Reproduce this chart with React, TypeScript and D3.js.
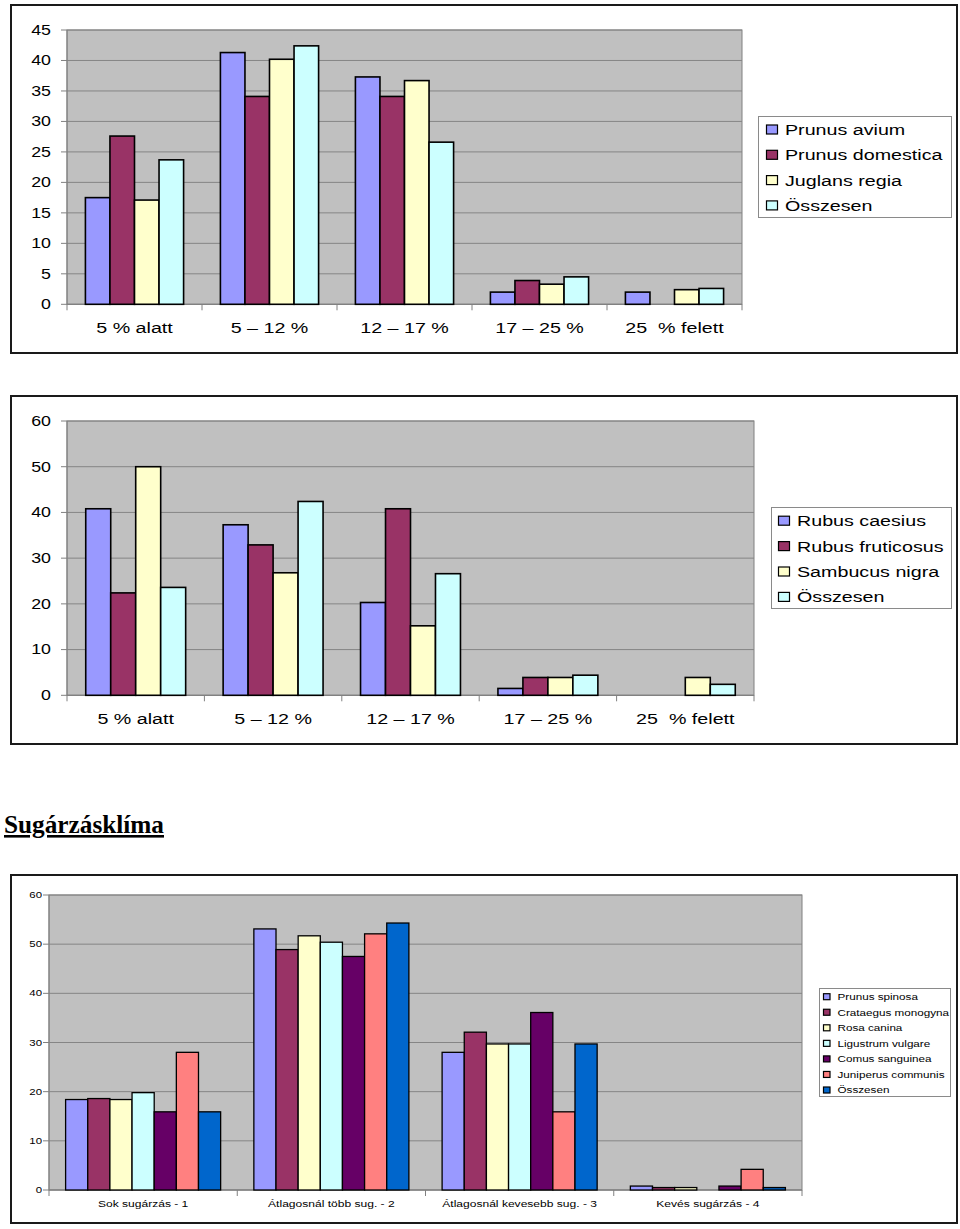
import React from "react";
import * as d3 from "d3";

// ---------- DATA ----------
const cats1 = ["5 % alatt", "5 – 12 %", "12 – 17 %", "17 – 25 %", "25  % felett"];
const names1 = ["Prunus avium", "Prunus domestica", "Juglans regia", "Összesen"];
const prunusAvium = [17.5, 41.3, 37.3, 2.0, 2.0];
const prunusDomestica = [27.6, 34.1, 34.1, 3.9, 0];
const juglansRegia = [17.1, 40.2, 36.7, 3.3, 2.4];
const osszesen1 = [23.7, 42.4, 26.6, 4.5, 2.6];
const ticks1 = [0, 5, 10, 15, 20, 25, 30, 35, 40, 45];

const cats2 = ["5 % alatt", "5 – 12 %", "12 – 17 %", "17 – 25 %", "25  % felett"];
const names2 = ["Rubus caesius", "Rubus fruticosus", "Sambucus nigra", "Összesen"];
const rubusCaesius = [40.8, 37.3, 20.3, 1.5, 0];
const rubusFruticosus = [22.4, 32.9, 40.8, 3.9, 0];
const sambucusNigra = [50.0, 26.8, 15.2, 3.9, 3.9];
const osszesen2 = [23.6, 42.4, 26.6, 4.4, 2.4];
const ticks2 = [0, 10, 20, 30, 40, 50, 60];

const cats3 = ["Sok sugárzás - 1", "Átlagosnál több sug. - 2", "Átlagosnál kevesebb sug. - 3", "Kevés sugárzás - 4"];
const names3 = ["Prunus spinosa", "Crataegus monogyna", "Rosa canina", "Ligustrum vulgare", "Comus sanguinea", "Juniperus communis", "Összesen"];
const prunusSpinosa = [18.4, 53.1, 28.0, 0.8];
const crataegusMonogyna = [18.6, 48.9, 32.1, 0.5];
const rosaCanina = [18.4, 51.7, 29.7, 0.5];
const ligustrumVulgare = [19.8, 50.4, 29.7, 0];
const comusSanguinea = [15.9, 47.5, 36.1, 0.8];
const juniperusCommunis = [28.0, 52.1, 15.9, 4.2];
const osszesen3 = [15.9, 54.3, 29.7, 0.5];
const ticks3 = [0, 10, 20, 30, 40, 50, 60];

const title = "Sugárzásklíma";

// ---------- STYLE ----------
const palette = ["#9999FF", "#993366", "#FFFFCC", "#CCFFFF", "#660066", "#FF8080", "#0066CC"];
const FONT = "'Liberation Sans', Arial, Helvetica, sans-serif";
const SX = 1.27;

type Spec = {
  frame: [number, number, number, number];
  plot: { x0: number; x1: number; y0: number; y1: number };
  max: number;
  ticks: number[];
  cats: string[];
  names: string[];
  values: number[][];
  yLabelX: number;
  yFont: number;
  xLabelY: number;
  xFont: number;
  legend: { x: number; y: number; w: number; h: number; rowY0: number; rowStep: number; swX: number; swW: number; swH: number; txtX: number; font: number };
  stroke: number;
};

const T = ({ x, y, size, anchor = "start", children, dy = "0" }: any) => (
  <text
    transform={`translate(${x},${y}) scale(${SX},1)`}
    fontSize={size}
    fontFamily={FONT}
    textAnchor={anchor}
    dy={dy}
    fill="#000"
    style={{ whiteSpace: "pre" }}
  >
    {children}
  </text>
);

function BarChart({ s }: { s: Spec }) {
  const { plot } = s;
  const y = d3.scaleLinear().domain([0, s.max]).range([plot.y1, plot.y0]);
  const n = s.names.length;
  const p = 1.5 / (n + 1.5);
  const x = d3.scaleBand<string>().domain(s.cats).range([plot.x0, plot.x1]).paddingInner(p).paddingOuter(p / 2);
  const xs = d3.scaleBand<number>().domain(d3.range(n)).range([0, x.bandwidth()]).padding(0);
  const step = (plot.x1 - plot.x0) / s.cats.length;
  const bounds = d3.range(s.cats.length + 1).map((i) => plot.x0 + i * step);
  const L = s.legend;
  return (
    <g>
      <rect x={s.frame[0]} y={s.frame[1]} width={s.frame[2]} height={s.frame[3]} fill="#fff" stroke="#1a1a1a" strokeWidth={2} />
      <rect x={plot.x0} y={plot.y0} width={plot.x1 - plot.x0} height={plot.y1 - plot.y0} fill="#C0C0C0" stroke="#808080" strokeWidth={1} />
      {s.ticks.map((t) => (
        <g key={t}>
          <line x1={plot.x0} x2={plot.x1} y1={y(t)} y2={y(t)} stroke="#858585" strokeWidth={1} />
          <line x1={plot.x0 - 6} x2={plot.x0} y1={y(t)} y2={y(t)} stroke="#808080" strokeWidth={1} />
          <T x={s.yLabelX} y={y(t)} size={s.yFont} anchor="end" dy="0.35em">{String(t)}</T>
        </g>
      ))}
      <line x1={plot.x0} x2={plot.x0} y1={plot.y0} y2={plot.y1} stroke="#808080" strokeWidth={1} />
      <line x1={plot.x0} x2={plot.x1} y1={plot.y1} y2={plot.y1} stroke="#808080" strokeWidth={1} />
      {bounds.map((b, i) => (
        <line key={i} x1={b} x2={b} y1={plot.y1} y2={plot.y1 + 6} stroke="#808080" strokeWidth={1} />
      ))}
      {s.values.map((vals, si) =>
        vals.map((v, ci) =>
          v > 0 ? (
            <rect
              key={`${si}-${ci}`}
              x={(x(s.cats[ci]) as number) + (xs(si) as number)}
              y={y(v)}
              width={xs.bandwidth()}
              height={y(0) - y(v)}
              fill={palette[si]}
              stroke="#000"
              strokeWidth={s.stroke}
            />
          ) : null
        )
      )}
      {s.cats.map((c) => (
        <T key={c} x={(x(c) as number) + x.bandwidth() / 2} y={s.xLabelY} size={s.xFont} anchor="middle">{c}</T>
      ))}
      <rect x={L.x} y={L.y} width={L.w} height={L.h} fill="#fff" stroke="#8a8a8a" strokeWidth={1} />
      {s.names.map((nm, i) => {
        const cy = L.rowY0 + i * L.rowStep;
        return (
          <g key={nm}>
            <rect x={L.swX} y={cy - L.swH / 2} width={L.swW} height={L.swH} fill={palette[i]} stroke="#000" strokeWidth={1.2} />
            <T x={L.txtX} y={cy} size={L.font} dy="0.36em">{nm}</T>
          </g>
        );
      })}
    </g>
  );
}

const spec1: Spec = {
  frame: [11, 5, 946, 348],
  plot: { x0: 67, x1: 742, y0: 30, y1: 304.3 },
  max: 45,
  ticks: ticks1,
  cats: cats1,
  names: names1,
  values: [prunusAvium, prunusDomestica, juglansRegia, osszesen1],
  yLabelX: 51,
  yFont: 14,
  xLabelY: 333,
  xFont: 15.5,
  legend: { x: 758.5, y: 116.5, w: 193, h: 101, rowY0: 129.5, rowStep: 25.3, swX: 766.5, swW: 11, swH: 9, txtX: 785, font: 15.5 },
  stroke: 1.6,
};

const spec2: Spec = {
  frame: [11, 396, 946, 348],
  plot: { x0: 67, x1: 754, y0: 421, y1: 695.3 },
  max: 60,
  ticks: ticks2,
  cats: cats2,
  names: names2,
  values: [rubusCaesius, rubusFruticosus, sambucusNigra, osszesen2],
  yLabelX: 51,
  yFont: 14,
  xLabelY: 724,
  xFont: 15.5,
  legend: { x: 771.5, y: 507.5, w: 180, h: 101, rowY0: 520.7, rowStep: 25.4, swX: 778.5, swW: 11, swH: 9, txtX: 797, font: 15.5 },
  stroke: 1.6,
};

const spec3: Spec = {
  frame: [11, 875, 946, 348],
  plot: { x0: 49, x1: 802, y0: 895, y1: 1190 },
  max: 60,
  ticks: ticks3,
  cats: cats3,
  names: names3,
  values: [prunusSpinosa, crataegusMonogyna, rosaCanina, ligustrumVulgare, comusSanguinea, juniperusCommunis, osszesen3],
  yLabelX: 42,
  yFont: 9,
  xLabelY: 1207,
  xFont: 9.5,
  legend: { x: 819.5, y: 988.5, w: 131, h: 108, rowY0: 996.7, rowStep: 15.55, swX: 823.5, swW: 6.5, swH: 6, txtX: 837.5, font: 9.2 },
  stroke: 1.3,
};

export default function App() {
  return (
    <svg width={960} height={1229} style={{ position: "absolute", left: 0, top: 0, background: "#fff" }}>
      <rect x={0} y={0} width={960} height={1229} fill="#fff" />
      <BarChart s={spec1} />
      <BarChart s={spec2} />
      <text
        x={4}
        y={833}
        fontFamily="'Liberation Serif', 'Times New Roman', serif"
        fontWeight="bold"
        fontSize={26}
        textLength={160}
        lengthAdjust="spacingAndGlyphs"
        textDecoration="underline"
        fill="#000"
      >
        {title}
      </text>
      <BarChart s={spec3} />
    </svg>
  );
}
